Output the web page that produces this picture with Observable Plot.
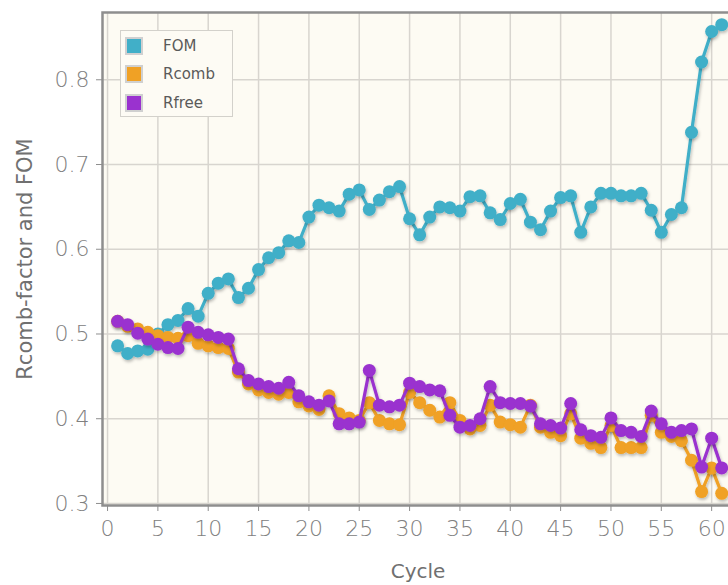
<!DOCTYPE html>
<html><head><meta charset="utf-8">
<script src="https://cdn.jsdelivr.net/npm/d3@7"></script>
<script src="https://cdn.jsdelivr.net/npm/@observablehq/plot@0.6"></script>
<style>
body{margin:0;background:#fff;overflow:hidden;font-family:"DejaVu Sans",sans-serif}
#wrap{position:relative;width:728px;height:585px}
.legend{position:absolute;left:120px;top:30px;width:113px;height:87px;border:1px solid #d3d1cb;background:#fdfbf4;box-sizing:border-box}
.item{position:absolute;left:4px;height:19px;display:flex;align-items:center}
.sw{width:14px;height:14px;border:2px solid #d0d0d0;margin-right:20px}
.item span{font-size:15px;color:#5a5a5a}
</style></head>
<body><div id="wrap"></div>
<script>
const cycles = d3.range(1, 62);
const fom = [0.486,0.477,0.480,0.482,0.500,0.511,0.516,0.530,0.521,0.548,
             0.560,0.565,0.543,0.554,0.576,0.590,0.596,0.610,0.608,0.638,
             0.652,0.649,0.645,0.665,0.670,0.647,0.658,0.668,0.674,0.636,
             0.617,0.638,0.650,0.649,0.645,0.662,0.663,0.643,0.635,0.654,
             0.659,0.632,0.623,0.645,0.661,0.663,0.620,0.650,0.666,0.666,
             0.663,0.663,0.666,0.646,0.620,0.641,0.649,0.738,0.821,0.857,
             0.865];
const rcomb = [0.515,0.509,0.506,0.502,0.498,0.496,0.495,0.498,0.489,0.486,
               0.484,0.483,0.455,0.441,0.434,0.431,0.429,0.431,0.420,0.415,
               0.411,0.427,0.406,0.401,0.398,0.419,0.398,0.394,0.393,0.431,
               0.419,0.410,0.402,0.419,0.398,0.388,0.392,0.416,0.396,0.393,
               0.390,0.416,0.390,0.384,0.380,0.406,0.377,0.371,0.366,0.392,
               0.366,0.366,0.366,0.404,0.384,0.379,0.374,0.351,0.314,0.342,
               0.312];
const rfree = [0.515,0.511,0.501,0.494,0.488,0.484,0.483,0.508,0.502,0.499,
               0.496,0.494,0.459,0.445,0.441,0.438,0.436,0.443,0.427,0.420,
               0.416,0.421,0.394,0.394,0.396,0.457,0.416,0.414,0.416,0.442,
               0.438,0.434,0.433,0.404,0.390,0.392,0.400,0.438,0.419,0.418,
               0.418,0.415,0.394,0.392,0.389,0.418,0.387,0.380,0.378,0.401,
               0.386,0.384,0.379,0.409,0.394,0.384,0.386,0.388,0.343,0.377,
               0.342];
const seriesNames = ["FOM", "Rcomb", "Rfree"];
const seriesColors = ["#41afc8", "#f0a125", "#9a32cf"];
const xTicks = [0, 5, 10, 15, 20, 25, 30, 35, 40, 45, 50, 55, 60];
const yTicks = [0.3, 0.4, 0.5, 0.6, 0.7, 0.8];
const xLabel = "Cycle";
const yLabel = "Rcomb-factor and FOM";

const data = [fom, rcomb, rfree].flatMap((vals, s) =>
  vals.map((v, i) => ({cycle: cycles[i], value: v, series: seriesNames[s]})));

const seriesMarks = seriesNames.flatMap(name => {
  const d = data.filter(r => r.series === name);
  return [
    Plot.lineY(d, {x: "cycle", y: "value", stroke: "series", strokeWidth: 3.2}),
    Plot.dot(d, {x: "cycle", y: "value", fill: "series", r: 6.5})
  ];
});

const chart = Plot.plot({
  width: 728, height: 585,
  marginLeft: 102, marginRight: -5, marginTop: 12, marginBottom: 80,
  x: {domain: [-0.5, 62.17]},
  y: {domain: [0.2976, 0.8794]},
  color: {domain: seriesNames, range: seriesColors},
  style: {fontFamily: "DejaVu Sans", background: "#fff"},
  marks: [
    Plot.frame({fill: "#fdfbf3", stroke: null}),
    Plot.gridX({ticks: xTicks, stroke: "#d8d5cf", strokeOpacity: 1, strokeWidth: 1.5}),
    Plot.gridY({ticks: yTicks, stroke: "#d8d5cf", strokeOpacity: 1, strokeWidth: 1.5}),
    Plot.frame({stroke: "#8e8e8e", strokeWidth: 2.5}),
    Plot.axisX({ticks: xTicks, tickSize: 6, tickPadding: 9, fontSize: 22, fontWeight: 300, stroke: "#8e8e8e", fill: "#808080", label: null}),
    Plot.axisY({ticks: yTicks, tickFormat: d => d.toFixed(1), tickSize: 6, tickPadding: 7, fontSize: 22, fontWeight: 300, stroke: "#8e8e8e", fill: "#808080", label: null}),
    ...seriesMarks,
    Plot.text([xLabel], {text: d => d, frameAnchor: "bottom", dy: 72, fontSize: 20, fill: "#707070"}),
    Plot.text([yLabel], {text: d => d, frameAnchor: "left", textAnchor: "middle", rotate: -90, dx: -77, fontSize: 21, fill: "#707070"})
  ]
});

// soft drop shadow under the series, like the reference
const svg = d3.select(chart);
const defs = svg.insert("defs", ":first-child");
const f = defs.append("filter").attr("id", "shadow").attr("x", "-10%").attr("y", "-10%").attr("width", "120%").attr("height", "130%");
f.append("feDropShadow").attr("dx", 1).attr("dy", 2).attr("stdDeviation", 1.5).attr("flood-color", "#000").attr("flood-opacity", 0.25);
svg.selectAll('g[aria-label="line"], g[aria-label="dot"]').attr("filter", "url(#shadow)");

const wrap = document.getElementById("wrap");
wrap.appendChild(chart);

// legend
const legend = document.createElement("div");
legend.className = "legend";
seriesNames.forEach((name, i) => {
  const item = document.createElement("div");
  item.className = "item";
  item.style.top = (5 + i * 28.5) + "px";
  const sw = document.createElement("div");
  sw.className = "sw";
  sw.style.background = seriesColors[i];
  const label = document.createElement("span");
  label.textContent = name;
  item.appendChild(sw);
  item.appendChild(label);
  legend.appendChild(item);
});
wrap.appendChild(legend);
</script>
</body></html>
